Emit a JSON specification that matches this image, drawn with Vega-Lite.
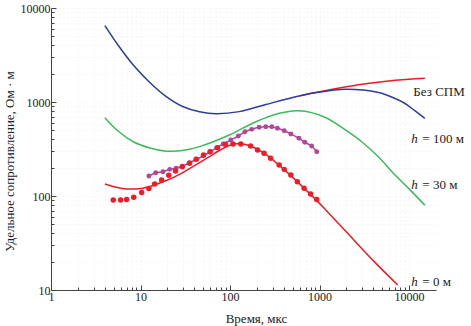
{
  "$schema": "https://vega.github.io/schema/vega-lite/v6.json",
  "width": 385,
  "height": 282,
  "autosize": {"type": "none"},
  "padding": {"left": 51, "top": 8, "right": 35, "bottom": 36},
  "background": "white",
  "config": {
    "view": {"stroke": null},
    "font": "Liberation Serif",
    "axis": {
      "labelFont": "Liberation Serif",
      "titleFont": "Liberation Serif",
      "labelFontSize": 12,
      "titleFontSize": 13,
      "titleFontWeight": "normal",
      "labelColor": "#222",
      "titleColor": "#222",
      "domainColor": "#444",
      "tickColor": "#444",
      "gridColor": "#e0e0e0",
      "gridDash": [1, 3],
      "gridOpacity": 0.5
    }
  },
  "datasets": {
    "curves": [
      {"s": "bez", "t": 600, "rho": 1162}, {"s": "bez", "t": 900, "rho": 1262}, {"s": "bez", "t": 1300, "rho": 1350}, {"s": "bez", "t": 2000, "rho": 1450}, {"s": "bez", "t": 3000, "rho": 1545}, {"s": "bez", "t": 4500, "rho": 1625}, {"s": "bez", "t": 7000, "rho": 1700}, {"s": "bez", "t": 10000, "rho": 1750}, {"s": "bez", "t": 15000, "rho": 1790},
      {"s": "h100", "t": 4, "rho": 6490}, {"s": "h100", "t": 5.6, "rho": 4040}, {"s": "h100", "t": 8.3, "rho": 2475}, {"s": "h100", "t": 12.7, "rho": 1611}, {"s": "h100", "t": 19.4, "rho": 1138}, {"s": "h100", "t": 29.5, "rho": 895}, {"s": "h100", "t": 45.6, "rho": 788}, {"s": "h100", "t": 70, "rho": 750}, {"s": "h100", "t": 127, "rho": 790}, {"s": "h100", "t": 251, "rho": 940}, {"s": "h100", "t": 589, "rho": 1158}, {"s": "h100", "t": 902, "rho": 1256}, {"s": "h100", "t": 1944, "rho": 1366}, {"s": "h100", "t": 4560, "rho": 1260}, {"s": "h100", "t": 6980, "rho": 1089}, {"s": "h100", "t": 9020, "rho": 964}, {"s": "h100", "t": 11500, "rho": 813}, {"s": "h100", "t": 15000, "rho": 671},
      {"s": "h30", "t": 4, "rho": 681}, {"s": "h30", "t": 5.6, "rho": 491}, {"s": "h30", "t": 8.3, "rho": 378}, {"s": "h30", "t": 12.7, "rho": 324}, {"s": "h30", "t": 19.4, "rho": 300}, {"s": "h30", "t": 29.5, "rho": 304}, {"s": "h30", "t": 45.6, "rho": 335}, {"s": "h30", "t": 98, "rho": 445}, {"s": "h30", "t": 163, "rho": 569}, {"s": "h30", "t": 293, "rho": 720}, {"s": "h30", "t": 589, "rho": 805}, {"s": "h30", "t": 1160, "rho": 685}, {"s": "h30", "t": 1944, "rho": 504}, {"s": "h30", "t": 2975, "rho": 375}, {"s": "h30", "t": 4560, "rho": 260}, {"s": "h30", "t": 6980, "rho": 167}, {"s": "h30", "t": 10000, "rho": 119}, {"s": "h30", "t": 15000, "rho": 80},
      {"s": "h0", "t": 4, "rho": 134}, {"s": "h0", "t": 5.5, "rho": 123}, {"s": "h0", "t": 7, "rho": 119}, {"s": "h0", "t": 10, "rho": 120}, {"s": "h0", "t": 13.8, "rho": 129.5}, {"s": "h0", "t": 19.4, "rho": 146}, {"s": "h0", "t": 27.3, "rho": 170}, {"s": "h0", "t": 54, "rho": 250}, {"s": "h0", "t": 76, "rho": 305}, {"s": "h0", "t": 98, "rho": 345}, {"s": "h0", "t": 127, "rho": 362}, {"s": "h0", "t": 170, "rho": 340}, {"s": "h0", "t": 240, "rho": 285}, {"s": "h0", "t": 417, "rho": 185}, {"s": "h0", "t": 902, "rho": 92}, {"s": "h0", "t": 1160, "rho": 72}, {"s": "h0", "t": 2000, "rho": 41.3}, {"s": "h0", "t": 4000, "rho": 20.4}, {"s": "h0", "t": 7470, "rho": 11.3}
    ],
    "reddots": [
      {"t": 4.96, "rho": 90.6}, {"t": 6.0, "rho": 90.6}, {"t": 7.0, "rho": 92}, {"t": 8.4, "rho": 97}, {"t": 10.3, "rho": 109}, {"t": 12.4, "rho": 120}, {"t": 14.4, "rho": 134}, {"t": 17.2, "rho": 148}, {"t": 20.7, "rho": 166}, {"t": 24.6, "rho": 184}, {"t": 29.3, "rho": 205}, {"t": 35.3, "rho": 223}, {"t": 41.8, "rho": 246}, {"t": 50.5, "rho": 273}, {"t": 60, "rho": 296}, {"t": 72.6, "rho": 327}, {"t": 88.6, "rho": 355}, {"t": 108, "rho": 358}, {"t": 132, "rho": 358}, {"t": 170, "rho": 340}, {"t": 203, "rho": 309}, {"t": 240, "rho": 285}, {"t": 284, "rho": 252}, {"t": 354, "rho": 214}, {"t": 403, "rho": 192}, {"t": 478, "rho": 167}, {"t": 565, "rho": 142}, {"t": 672, "rho": 121}, {"t": 795, "rho": 105}, {"t": 930, "rho": 92}
    ],
    "magenta": [
      {"t": 12.4, "rho": 163}, {"t": 14.8, "rho": 177}, {"t": 17.8, "rho": 181}, {"t": 21.2, "rho": 192}, {"t": 25, "rho": 197}, {"t": 29.3, "rho": 208}, {"t": 35.3, "rho": 226}, {"t": 42.5, "rho": 246}, {"t": 50.5, "rho": 268}, {"t": 60, "rho": 296}, {"t": 71, "rho": 327}, {"t": 84, "rho": 358}, {"t": 102, "rho": 394}, {"t": 124, "rho": 435}, {"t": 147, "rho": 483}, {"t": 175, "rho": 512}, {"t": 211, "rho": 538}, {"t": 251, "rho": 545}, {"t": 293, "rho": 545}, {"t": 338, "rho": 525}, {"t": 403, "rho": 495}, {"t": 478, "rho": 457}, {"t": 589, "rho": 411}, {"t": 684, "rho": 373}, {"t": 816, "rho": 340}, {"t": 930, "rho": 296}
    ],
    "labels": [
      {"t": 11170, "rho": 1288, "a": "", "b": "Без СПМ"},
      {"t": 10600, "rho": 404, "a": "h", "b": "= 100 м"},
      {"t": 10600, "rho": 131, "a": "h", "b": "= 30 м"},
      {"t": 10600, "rho": 12.3, "a": "h", "b": "= 0 м"}
    ]
  },
  "encoding": {
    "x": {
      "field": "t", "type": "quantitative",
      "scale": {"type": "log", "domain": [1, 20000], "nice": false},
      "axis": {
        "title": "Время, мкс",
        "titleX": 205, "titleY": 28, "titleBaseline": "middle",
        "values": [1,2,3,4,5,6,7,8,9,10,20,30,40,50,60,70,80,90,100,200,300,400,500,600,700,800,900,1000,2000,3000,4000,5000,6000,7000,8000,9000,10000],
        "labelExpr": "abs(log(datum.value)/LN10 - round(log(datum.value)/LN10)) < 1e-6 ? format(datum.value, 'd') : ''",
        "tickSize": {"condition": {"test": "abs(log(datum.value)/LN10 - round(log(datum.value)/LN10)) < 1e-6", "value": -5}, "value": -3},
        "labelPadding": 6,
        "labelFlush": false,
        "labelOverlap": false,
        "grid": true
      }
    },
    "y": {
      "field": "rho", "type": "quantitative",
      "scale": {"type": "log", "domain": [10, 10000], "nice": false},
      "axis": {
        "title": "Удельное сопротивление, Ом · м",
        "titleX": -42, "titleY": 153, "titleAngle": 270, "titleAlign": "center", "titleBaseline": "middle",
        "values": [10,20,30,40,50,60,70,80,90,100,200,300,400,500,600,700,800,900,1000,2000,3000,4000,5000,6000,7000,8000,9000,10000],
        "labelExpr": "abs(log(datum.value)/LN10 - round(log(datum.value)/LN10)) < 1e-6 ? format(datum.value, 'd') : ''",
        "tickSize": {"condition": {"test": "abs(log(datum.value)/LN10 - round(log(datum.value)/LN10)) < 1e-6", "value": -5}, "value": -3},
        "labelPadding": 6,
        "labelFlush": false,
        "labelOverlap": false,
        "grid": true
      }
    }
  },
  "layer": [
    {"data": {"name": "curves"}, "transform": [{"filter": "datum.s == 'bez'"}], "mark": {"type": "line", "color": "#ec1c24", "strokeWidth": 1.5, "interpolate": "catmull-rom"}},
    {"data": {"name": "curves"}, "transform": [{"filter": "datum.s == 'h100'"}], "mark": {"type": "line", "color": "#2e3d98", "strokeWidth": 1.5, "interpolate": "catmull-rom"}},
    {"data": {"name": "curves"}, "transform": [{"filter": "datum.s == 'h30'"}], "mark": {"type": "line", "color": "#3dba5c", "strokeWidth": 1.5, "interpolate": "catmull-rom"}},
    {"data": {"name": "curves"}, "transform": [{"filter": "datum.s == 'h0'"}], "mark": {"type": "line", "color": "#ec1c24", "strokeWidth": 1.5, "interpolate": "catmull-rom"}},
    {"data": {"name": "magenta"}, "mark": {"type": "line", "color": "#b5459b", "strokeWidth": 1.5, "interpolate": "catmull-rom"}},
    {"data": {"name": "magenta"}, "mark": {"type": "circle", "color": "#b5459b", "opacity": 1, "size": 24}},
    {"data": {"name": "reddots"}, "mark": {"type": "circle", "color": "#ee1c25", "opacity": 1, "size": 30}},
    {"data": {"name": "labels"}, "mark": {"type": "text", "align": "left", "baseline": "middle", "font": "Liberation Serif", "fontSize": 13, "fontStyle": "italic", "color": "#222"}, "encoding": {"text": {"field": "a"}}},
    {"data": {"name": "labels"}, "transform": [{"filter": "datum.a == 'h'"}], "mark": {"type": "text", "align": "left", "baseline": "middle", "font": "Liberation Serif", "fontSize": 13, "dx": 11, "color": "#222"}, "encoding": {"text": {"field": "b"}}},
    {"data": {"name": "labels"}, "transform": [{"filter": "datum.a == ''"}], "mark": {"type": "text", "align": "left", "baseline": "middle", "font": "Liberation Serif", "fontSize": 13, "color": "#222"}, "encoding": {"text": {"field": "b"}}}
  ]
}
